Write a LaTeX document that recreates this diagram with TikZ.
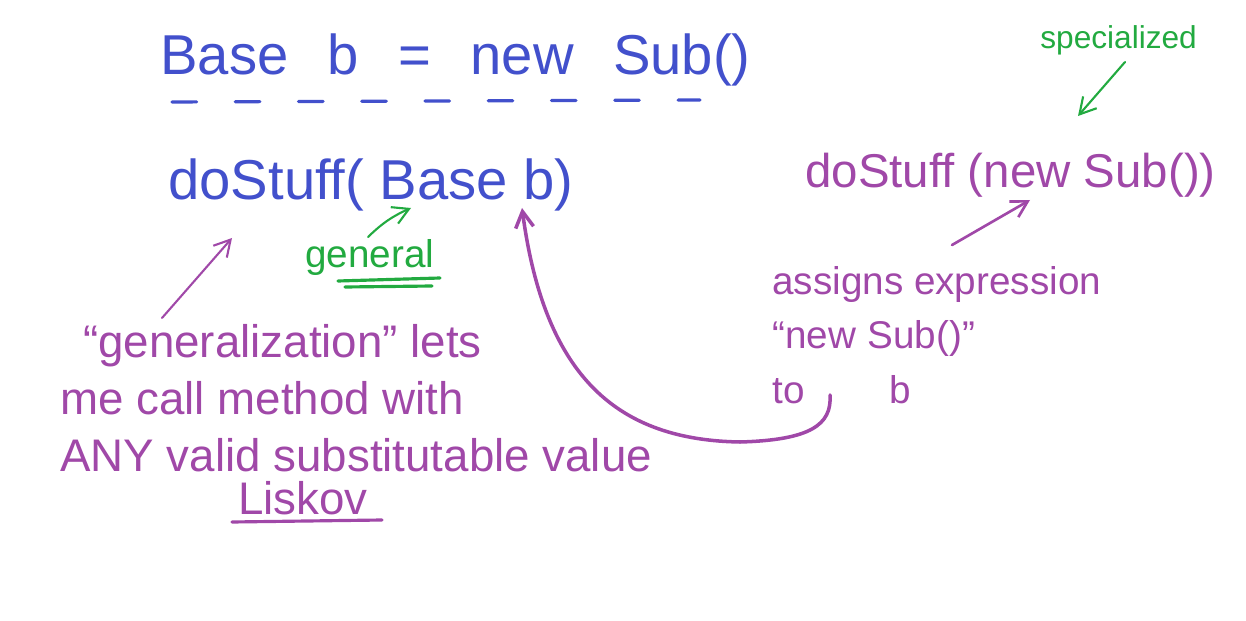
\documentclass[tikz,border=0pt]{standalone}
\usepackage{fontspec}
\setmainfont{Liberation Sans}
\usetikzlibrary{arrows.meta,positioning}
\definecolor{inkblue}{RGB}{66,80,204}
\definecolor{inkpurple}{RGB}{160,72,168}
\definecolor{inkgreen}{RGB}{34,170,64}

\begin{document}
\begin{tikzpicture}[
  x=0.02cm, y=-0.02cm,
  hand/.style={anchor=west, inner sep=0pt, align=left},
  huge/.style={font=\fontsize{32}{36}\selectfont},
  large/.style={font=\fontsize{27}{32}\selectfont},
  note/.style={font=\fontsize{26}{32.4}\selectfont},
  small/.style={font=\fontsize{22}{31}\selectfont},
  tiny/.style={font=\fontsize{18}{22}\selectfont},
  arrow/.style={-{Straight Barb[length=3.2mm, width=3.6mm]}, line width=1.5pt, line cap=round},
  stroke/.style={line width=1.8pt, line cap=round},
]
\useasboundingbox (0,0) rectangle (1246,621);

% === declaration (top) ===
\node[hand, huge, text=inkblue] (decl) at (160,60)
  {Base\hspace{0.7em}b\hspace{0.7em}=\hspace{0.7em}new\hspace{0.7em}Sub()};
\draw[stroke, inkblue, dash pattern=on 14pt off 22pt] (172,102) -- (700,100);

% === method signature ===
\node[hand, huge, text=inkblue] (sig) at (168,185) {doStuff( Base b)};
\node[hand, small, text=inkgreen] (gen) at (305,258) {general};
\draw[stroke, inkgreen] (338,281) -- (440,278);
\draw[stroke, inkgreen] (345,287) -- (432,286);

% === method call ===
\node[hand, large, text=inkpurple] (call) at (805,175) {doStuff (new Sub())};
\node[hand, tiny, text=inkgreen] (spec) at (1040,40) {specialized};

% === explanation (right) ===
\node[hand, small, text=inkpurple] (assign) at (772,335)
  {assigns expression\\
   ``new\hspace{0.3em}Sub()''\\
   to\hspace{2.2em}b};

% === explanation (left) ===
\node[hand, note, text=inkpurple] (lsp) at (60,398)
  {\hspace{0.5em}``generalization'' lets\\
   me call method with\\
   ANY valid substitutable value};
\node[hand, note, text=inkpurple] (liskov) at (238,498) {Liskov};
\draw[stroke, inkpurple] (232,522) -- (382,520);

% === connectors ===
\coordinate (genTail) at (368,237);
\coordinate (genTip) at (411,208);
\coordinate (specTail) at (1125,62);
\coordinate (specTip) at (1078,116);
\coordinate (assignTail) at (952,245);
\coordinate (assignTip) at (1030,200);
\coordinate (lspTail) at (162,318);
\coordinate (lspTip) at (232,238);
\coordinate (toB) at (830,395);
\coordinate (argB) at (522,208);

\draw[arrow, inkgreen, line width=1.2pt] (genTail) to[bend left=10] (genTip);
\draw[arrow, inkgreen, line width=1.2pt] (specTail) -- (specTip);
\draw[arrow, inkpurple] (assignTail) -- (assignTip);
\draw[arrow, inkpurple, line width=1.2pt] (lspTail) -- (lspTip);
\draw[arrow, inkpurple, line width=2pt]
  (toB) .. controls (832,425) and (810,440) .. (740,442)
        .. controls (620,440) and (545,380) .. (argB);

\end{tikzpicture}
\end{document}
